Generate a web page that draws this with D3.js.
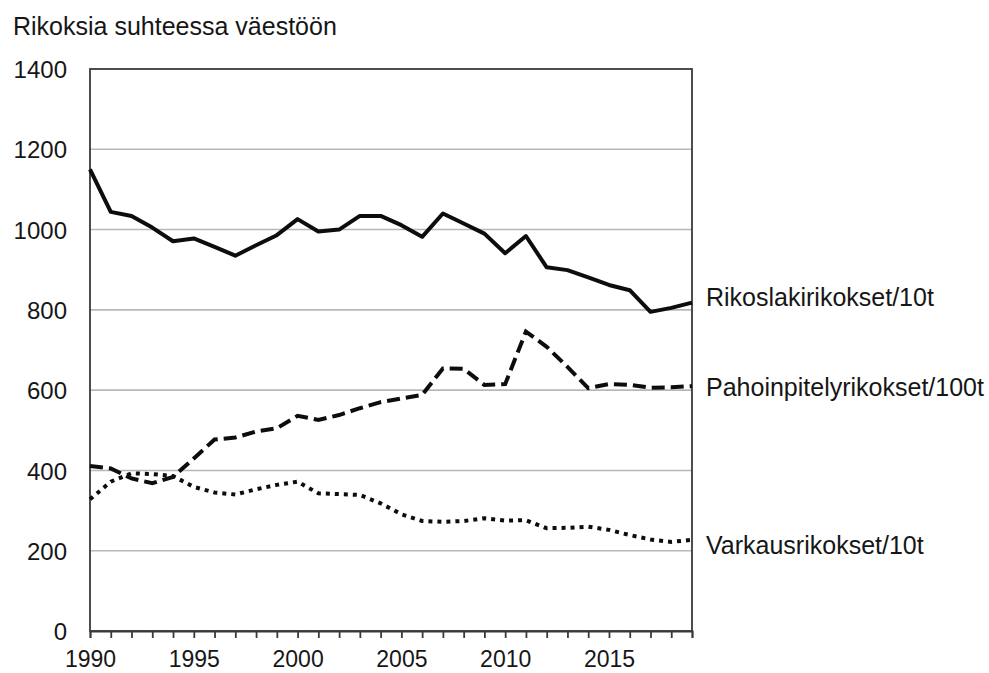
<!DOCTYPE html>
<html>
<head>
<meta charset="utf-8">
<script src="https://cdn.jsdelivr.net/npm/d3@7"></script>
<style>
  html, body { margin: 0; padding: 0; background: #fff; }
  svg text { font-family: "Liberation Sans", Arial, sans-serif; fill: #161616; }
</style>
</head>
<body>
<svg id="chart" width="989" height="673"></svg>
<script>
const years = d3.range(1990, 2020);
const rikoslaki = [1150, 1044, 1034, 1005, 971, 978, 957, 935, 961, 986, 1026, 995, 1000, 1034, 1034, 1011, 982, 1040, 1015, 990, 941, 984, 906, 899, 881, 862, 849, 795, 805, 818];
const pahoinpitely = [411, 405, 380, 368, 384, 430, 477, 482, 497, 505, 536, 526, 538, 555, 570, 579, 588, 654, 653, 613, 615, 746, 708, 658, 605, 615, 613, 606, 607, 610];
const varkaus = [328, 372, 393, 391, 386, 359, 345, 340, 353, 364, 372, 343, 341, 339, 318, 291, 274, 272, 274, 281, 275, 276, 256, 257, 260, 252, 239, 228, 222, 227];
const seriesNames = ["Rikoslakirikokset/10t", "Pahoinpitelyrikokset/100t", "Varkausrikokset/10t"];
const yTicks = [0, 200, 400, 600, 800, 1000, 1200, 1400];
const xLabelYears = [1990, 1995, 2000, 2005, 2010, 2015];
const title = "Rikoksia suhteessa väestöön";

(function () {
const svg = d3.select("#chart");
const mLeft = 90, mRight = 692, mTop = 69, mBottom = 631;
const font = "'Liberation Sans', Arial, sans-serif";

const x = d3.scaleLinear().domain([1990, 2019]).range([mLeft, mRight]);
const y = d3.scaleLinear().domain([0, 1400]).range([mBottom, mTop]);

// gridlines
svg.append("g").selectAll("line").data(yTicks.filter(v => v > 0 && v < 1400)).join("line")
  .attr("x1", mLeft).attr("x2", mRight)
  .attr("y1", d => y(d)).attr("y2", d => y(d))
  .attr("stroke", "#b8b8b8").attr("stroke-width", 1.6);

// frame
svg.append("rect").attr("x", mLeft).attr("y", mTop).attr("width", mRight - mLeft).attr("height", mBottom - mTop)
  .attr("fill", "none").attr("stroke", "#3a3a3a").attr("stroke-width", 1.8);

// x axis ticks + labels
const xAxis = d3.axisBottom(x).tickValues(years).tickSize(7).tickFormat(d => xLabelYears.includes(d) ? d : "");
const gx = svg.append("g").attr("transform", `translate(0,${mBottom})`).call(xAxis);
gx.select(".domain").attr("stroke", "#3a3a3a").attr("stroke-width", 1.8);
gx.selectAll(".tick line").attr("stroke", "#3a3a3a").attr("stroke-width", 1.8);
gx.selectAll(".tick text").attr("dy", 0).attr("y", 36).attr("font-size", 23)
  .style("font-family", font).attr("fill", "#161616");

// y axis labels
const yAxis = d3.axisLeft(y).tickValues(yTicks).tickSize(0).tickPadding(0).tickFormat(d3.format("d"));
const gy = svg.append("g").attr("transform", `translate(${mLeft},0)`).call(yAxis);
gy.select(".domain").remove();
gy.selectAll(".tick text").attr("x", -23).attr("dy", "0.36em").attr("font-size", 24)
  .style("font-family", font).attr("fill", "#161616");

// title
svg.append("text").attr("x", 13).attr("y", 35).attr("font-size", 25).text(title);

const line = d3.line().x((d, i) => x(years[i])).y(d => y(d));

svg.append("path").datum(rikoslaki).attr("d", line)
  .attr("fill", "none").attr("stroke", "#0d0d0d").attr("stroke-width", 4).attr("stroke-linejoin", "round");
svg.append("path").datum(pahoinpitely).attr("d", line)
  .attr("fill", "none").attr("stroke", "#0d0d0d").attr("stroke-width", 4).attr("stroke-dasharray", "13,6");
svg.append("path").datum(varkaus).attr("d", line)
  .attr("fill", "none").attr("stroke", "#0d0d0d").attr("stroke-width", 4).attr("stroke-dasharray", "4,5");

// series labels
const labelY = [306, 396, 554];
svg.append("g").selectAll("text").data(seriesNames).join("text")
  .attr("x", 706).attr("y", (d, i) => labelY[i]).attr("font-size", 25).text(d => d);
})();
</script>
</body>
</html>
